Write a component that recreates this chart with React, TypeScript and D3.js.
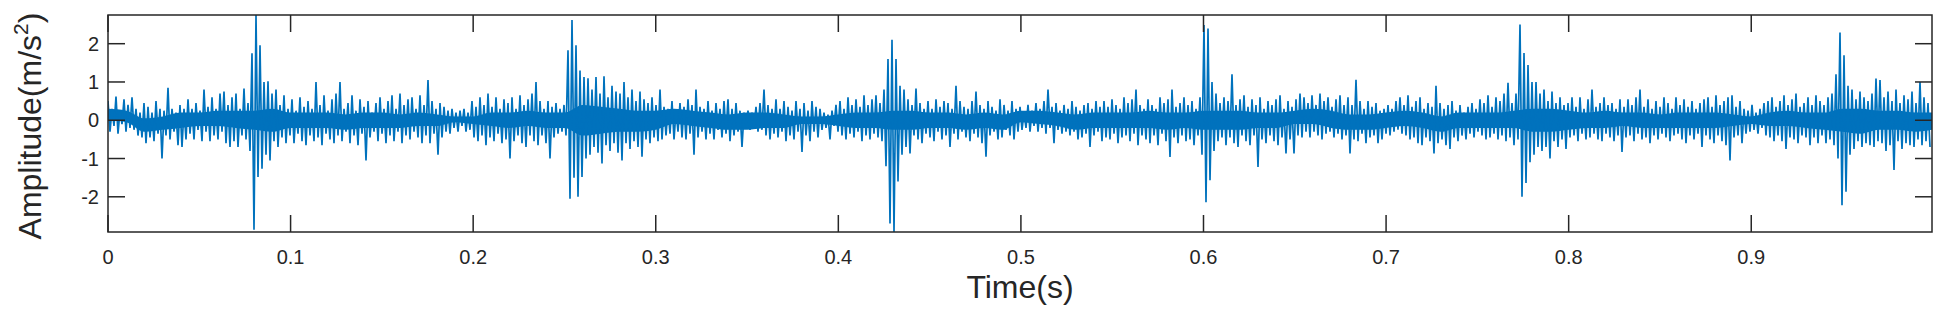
import React from 'react'
import * as d3 from 'd3'

// vibration record, read off the picture as per-bin upper / lower extremes
// (one bin ~ 2.2 ms, 456 bins over the 0.999 s record)
const recordLength = 0.999

const upperPeaks = [
  .5, .3, .62, .25, .55, .4, .6, .3, .2, .45,
  .35, .2, .5, .3, .25, .85, .3, .2, .4, .3,
  .55, .3, .45, .25, .8, .35, .6, .3, .7, .75,
  .4, .6, .7, .3, .83, .45, 1.75, 2.75, 1.96, 1.0,
  1.02, .7, .8, .4, .65, .3, .55, .25, .6, .35,
  .5, .3, 1.0, .4, .65, .25, .55, .7, 1.0, .3,
  .45, .65, .25, .55, .35, .5, .2, .45, .6, .3,
  .5, .65, .3, .7, .4, .55, .6, .3, .65, .4,
  1.05, .5, .3, .45, .35, .25, .3, .2, .25, .3,
  .2, .5, .35, .6, .4, .7, .35, .6, .3, .55,
  .45, .6, .3, .65, .4, .55, .7, 1.0, .5, .3,
  .5, .35, .45, .3, .4, 1.83, 2.62, 1.96, 1.3, 1.13,
  1.1, .8, 1.13, .7, 1.15, .6, .9, .75, .7, 1.0,
  .6, .8, .5, .75, .55, .45, .6, .4, .8, .35,
  .3, .5, .25, .45, .35, .55, .4, .8, .35, .3,
  .5, .25, .45, .3, .5, .55, .3, .45, .25, .2,
  .25, .2, .35, .45, .8, .4, .3, .55, .3, .5,
  .35, .25, .5, .3, .45, .25, .5, .35, .3, .2,
  .15, .25, .4, .5, .3, .6, .4, .55, .35, .65,
  .4, .55, .65, .45, .8, 1.6, 2.1, 1.6, .9, .8,
  .55, .4, .83, .45, .3, .5, .3, .55, .35, .5,
  .45, .3, .9, .5, .35, .3, .5, .75, .4, .3,
  .5, .35, .25, .55, .4, .25, .5, .3, .35, .2,
  .4, .25, .45, .3, .5, .8, .35, .45, .25, .4,
  .3, .5, .35, .25, .4, .45, .3, .5, .35, .5,
  .35, .55, .4, .3, .6, .45, .55, .8, .4, .3,
  .55, .4, .3, .6, .45, .55, .8, .35, .45, .6,
  .4, .5, .3, .6, 2.49, 2.4, 1.0, .7, .45, .6,
  .5, 1.2, .4, .55, .65, .35, .55, .4, .6, .3,
  .5, .4, .55, .65, .3, .5, .35, .55, .7, .6,
  .45, .65, .4, .7, .5, .6, .35, .55, .65, .4,
  .6, .4, 1.06, .5, .3, .5, .35, .45, .25, .3,
  .4, .3, .5, .6, .4, .65, .35, .5, .6, .3,
  .45, .35, .9, .45, .3, .4, .5, .25, .4, .2,
  .35, .45, .3, .55, .45, .65, .35, .6, .5, .7,
  .98, .45, .7, 2.5, 1.76, 1.44, 1.0, 1.0, .7, .8,
  .5, .75, .45, .6, .4, .45, .6, .35, .6, .3,
  .55, .8, .35, .45, .6, .4, .45, .3, .55, .35,
  .55, .4, .6, .8, .35, .55, .3, .5, .35, .6,
  .45, .3, .6, .4, .55, .35, .5, .3, .45, .55,
  .6, .35, .65, .4, .5, .6, .65, .35, .5, .3,
  .25, .4, .2, .3, .45, .5, .6, .35, .5, .65,
  .4, .55, .7, .35, .45, .6, .4, .65, .5, .4,
  .6, .7, 1.2, 2.29, 1.7, .9, .8, .55, .75, .6,
  .5, .7, 1.09, 1.05, .6, .75, .5, .8, .45, .65,
  .55, .75, .45, 1.0, .6, .45,
]

const lowerPeaks = [
  -.3, -.15, -.35, -.1, -.3, -.2, -.25, -.4, -.45, -.6,
  -.45, -.55, -.35, -1.0, -.4, -.5, -.3, -.65, -.7, -.5,
  -.35, -.5, -.25, -.55, -.3, -.55, -.4, -.5, -.3, -.6,
  -.7, -.55, -.7, -.4, -.5, -.8, -2.86, -1.48, -1.27, -.9,
  -1.05, -.55, -.7, -.45, -.6, -.4, -.6, -.35, -.55, -.65,
  -.4, -.55, -.45, -.65, -.35, -.5, -.6, -.4, -.55, -.3,
  -.6, -.4, -.65, -.35, -1.05, -.45, -.3, -.55, -.35, -.6,
  -.4, -.55, -.3, -.6, -.4, -.5, -.3, -.45, -.6, -.4,
  -.6, -.35, -.9, -.45, -.3, -.35, -.2, -.3, -.15, -.3,
  -.25, -.45, -.55, -.4, -.65, -.45, -.55, -.35, -.6, -.5,
  -1.0, -.55, -.4, -.6, -.7, -.4, -.55, -.65, -.4, -.6,
  -1.0, -.45, -.35, -.3, -.4, -2.05, -1.5, -2.0, -1.48, -1.0,
  -.9, -.7, -.85, -1.13, -.65, -.8, -.6, -.85, -1.05, -.6,
  -.75, -.55, -.7, -.95, -.5, -.6, -.45, -.55, -.5, -.4,
  -.35, -.5, -.3, -.45, -.5, -.35, -.9, -.45, -.3, -.5,
  -.35, -.5, -.25, -.45, -.35, -.55, -.4, -.3, -.7, -.2,
  -.25, -.2, -.3, -.25, -.4, -.5, -.35, -.45, -.3, -.55,
  -.4, -.5, -.3, -.83, -.4, -.55, -.3, -.45, -.25, -.2,
  -.5, -.15, -.3, -.4, -.5, -.35, -.45, -.3, -.55, -.4,
  -.5, -.35, -.45, -.55, -1.2, -2.7, -2.92, -1.6, -.9, -.7,
  -.87, -.4, -.5, -.6, -.35, -.45, -.55, -.3, -.5, -.4,
  -.7, -.35, -.5, -.3, -.45, -.55, -.35, -.45, -.6, -.95,
  -.4, -.3, -.5, -.45, -.25, -.4, -.5, -.3, -.25, -.2,
  -.3, -.15, -.3, -.2, -.35, -.2, -.6, -.25, -.35, -.3,
  -.4, -.3, -.5, -.45, -.35, -.7, -.4, -.3, -.55, -.45,
  -.5, -.35, -.6, -.45, -.4, -.55, -.35, -.65, -.4, -.5,
  -.6, -.4, -.65, -.35, -.55, -.96, -.45, -.6, -.4, -.55,
  -.5, -.65, -.4, -.9, -2.14, -1.57, -.8, -.55, -.45, -.65,
  -.45, -.6, -.7, -.4, -.55, -.65, -.4, -1.22, -.5, -.6,
  -.4, -.55, -.65, -.45, -.87, -.5, -.87, -.4, -.45, -.3,
  -.45, -.3, -.4, -.5, -.35, -.3, -.45, -.35, -.5, -.4,
  -.87, -.5, -.55, -.35, -.6, -.45, -.4, -.6, -.5, -.35,
  -.4, -.3, -.25, -.35, -.4, -.5, -.45, -.6, -.65, -.45,
  -.55, -.87, -.6, -.5, -.65, -.75, -.45, -.55, -.4, -.5,
  -.35, -.45, -.3, -.4, -.5, -.45, -.35, -.5, -.4, -.55,
  -.45, -.65, -.5, -2.0, -1.64, -1.1, -.9, -.7, -.8, -.7,
  -1.0, -.55, -.7, -.5, -.75, -.45, -.4, -.55, -.35, -.5,
  -.45, -.35, -.5, -.55, -.35, -.45, -.55, -.4, -.83, -.45,
  -.4, -.55, -.35, -.5, -.45, -.6, -.4, -.5, -.35, -.45,
  -.55, -.4, -.35, -.5, -.6, -.4, -.5, -.35, -.7, -.4,
  -.5, -.6, -.4, -.55, -.65, -1.05, -.45, -.4, -.6, -.35,
  -.3, -.25, -.35, -.2, -.4, -.45, -.55, -.4, -.55, -.75,
  -.45, -.5, -.6, -.4, -.45, -.65, -.45, -.6, -.4, -.6,
  -.5, -.65, -1.0, -2.22, -1.87, -.9, -.75, -.55, -.7, -.6,
  -.65, -.7, -.55, -.6, -.8, -.65, -1.3, -.55, -.75, -.6,
  -.65, -.7, -.5, -.65, -.55, -.7,
]

// dense core of the trace (where the samples overlap into a solid band), every 10 ms
const coreUpper = [
  .3, .25, .05, .1, .2, .2, .25, .25, .25, .3,
  .2, .2, .2, .15, .2, .2, .15, .2, .15, .1,
  .1, .2, .2, .25, .2, .2, .4, .35, .3, .25,
  .25, .3, .25, .2, .15, .2, .2, .15, .1, .1,
  .15, .2, .2, .25, .25, .2, .2, .15, .2, .15,
  .25, .25, .2, .15, .2, .2, .2, .25, .2, .2,
  .25, .25, .25, .2, .2, .25, .3, .25, .15, .15,
  .2, .25, .2, .1, .2, .2, .2, .25, .3, .3,
  .25, .2, .25, .2, .2, .15, .2, .2, .2, .15,
  .1, .2, .25, .2, .2, .3, .3, .25, .25, .2,
  .2,
]

const coreLower = [
  0, -.05, -.3, -.25, -.2, -.15, -.15, -.2, -.25, -.3,
  -.2, -.2, -.2, -.25, -.2, -.2, -.2, -.15, -.15, -.05,
  -.1, -.15, -.2, -.15, -.2, -.2, -.4, -.35, -.3, -.3,
  -.25, -.1, -.15, -.2, -.25, -.25, -.2, -.2, -.1, -.1,
  -.15, -.2, -.2, -.25, -.25, -.2, -.2, -.25, -.2, -.25,
  -.05, -.1, -.15, -.25, -.2, -.2, -.2, -.2, -.25, -.2,
  -.25, -.25, -.25, -.2, -.2, -.1, -.1, -.2, -.25, -.25,
  -.2, -.15, -.2, -.3, -.2, -.2, -.2, -.2, -.3, -.3,
  -.25, -.2, -.2, -.15, -.2, -.2, -.2, -.2, -.2, -.15,
  -.1, -.15, -.15, -.2, -.25, -.3, -.35, -.25, -.25, -.3,
  -.25,
]
const coreStep = 0.01

const xTicks = [0, 0.1, 0.2, 0.3, 0.4, 0.5, 0.6, 0.7, 0.8, 0.9]
const xTickLabels = ['0', '0.1', '0.2', '0.3', '0.4', '0.5', '0.6', '0.7', '0.8', '0.9']
const yTicks = [-2, -1, 0, 1, 2]
const yTickLabels = ['-2', '-1', '0', '1', '2']

const width = 1940
const height = 316
const margin = { top: 15, right: 8, bottom: 84, left: 108 }
const innerWidth = width - margin.left - margin.right
const innerHeight = height - margin.top - margin.bottom
const tickLen = 17
const axisColor = '#262626'
const lineColor = '#0072bd'
const font = '"Liberation Sans", Arial, Helvetica, sans-serif'

export default function App() {
  const binWidth = recordLength / upperPeaks.length
  const samples: [number, number][] = upperPeaks.flatMap((hi, i) => [
    [i * binWidth, hi] as [number, number],
    [(i + 0.5) * binWidth, lowerPeaks[i]] as [number, number],
  ])

  const xScale = d3.scaleLinear().domain([0, recordLength]).range([0, innerWidth])
  const yScale = d3
    .scaleLinear()
    .domain([d3.min(lowerPeaks) as number, d3.max(upperPeaks) as number])
    .range([innerHeight, 0])

  const tracePath = d3
    .line<[number, number]>()
    .x(d => xScale(d[0]))
    .y(d => yScale(d[1]))(samples)

  const corePath = d3
    .area<number>()
    .x((_, i) => xScale(Math.min(i * coreStep, recordLength)))
    .y0((_, i) => yScale(coreLower[i]))
    .y1(d => yScale(d))
    .curve(d3.curveMonotoneX)(coreUpper)

  return (
    <svg
      width={width}
      height={height}
      style={{ position: 'absolute', left: 0, top: 0, background: '#fff' }}
      fontFamily={font}
    >
      <defs>
        <clipPath id="plotArea">
          <rect x={0} y={0} width={innerWidth} height={innerHeight} />
        </clipPath>
      </defs>
      <g transform={`translate(${margin.left},${margin.top})`}>
        <g clipPath="url(#plotArea)">
          <path d={corePath || ''} fill={lineColor} />
          <path d={tracePath || ''} fill="none" stroke={lineColor} strokeWidth={1.7} strokeLinejoin="miter" />
        </g>

        {xTicks.map((t, i) => (
          <g key={t} transform={`translate(${xScale(t)},0)`}>
            <line y1={0} y2={tickLen} stroke={axisColor} strokeWidth={1.5} />
            <line y1={innerHeight} y2={innerHeight - tickLen} stroke={axisColor} strokeWidth={1.5} />
            <text y={innerHeight + 32} textAnchor="middle" fontSize={20} fill={axisColor}>
              {xTickLabels[i]}
            </text>
          </g>
        ))}
        {yTicks.map((t, i) => (
          <g key={t} transform={`translate(0,${yScale(t)})`}>
            <line x1={0} x2={tickLen} stroke={axisColor} strokeWidth={1.5} />
            <line x1={innerWidth} x2={innerWidth - tickLen} stroke={axisColor} strokeWidth={1.5} />
            <text x={-9} dy=".35em" textAnchor="end" fontSize={20} fill={axisColor}>
              {yTickLabels[i]}
            </text>
          </g>
        ))}
        <rect x={0} y={0} width={innerWidth} height={innerHeight} fill="none" stroke={axisColor} strokeWidth={1.5} />

        <text x={innerWidth / 2} y={innerHeight + 66} textAnchor="middle" fontSize={32} fill={axisColor}>
          Time(s)
        </text>
      </g>
      <text
        transform="translate(41,126) rotate(-90)"
        textAnchor="middle"
        fontSize={32}
        fill={axisColor}
      >
        Amplitude(m/s
        <tspan dy={-13} fontSize={21}>2</tspan>
        <tspan dy={13}>)</tspan>
      </text>
    </svg>
  )
}
